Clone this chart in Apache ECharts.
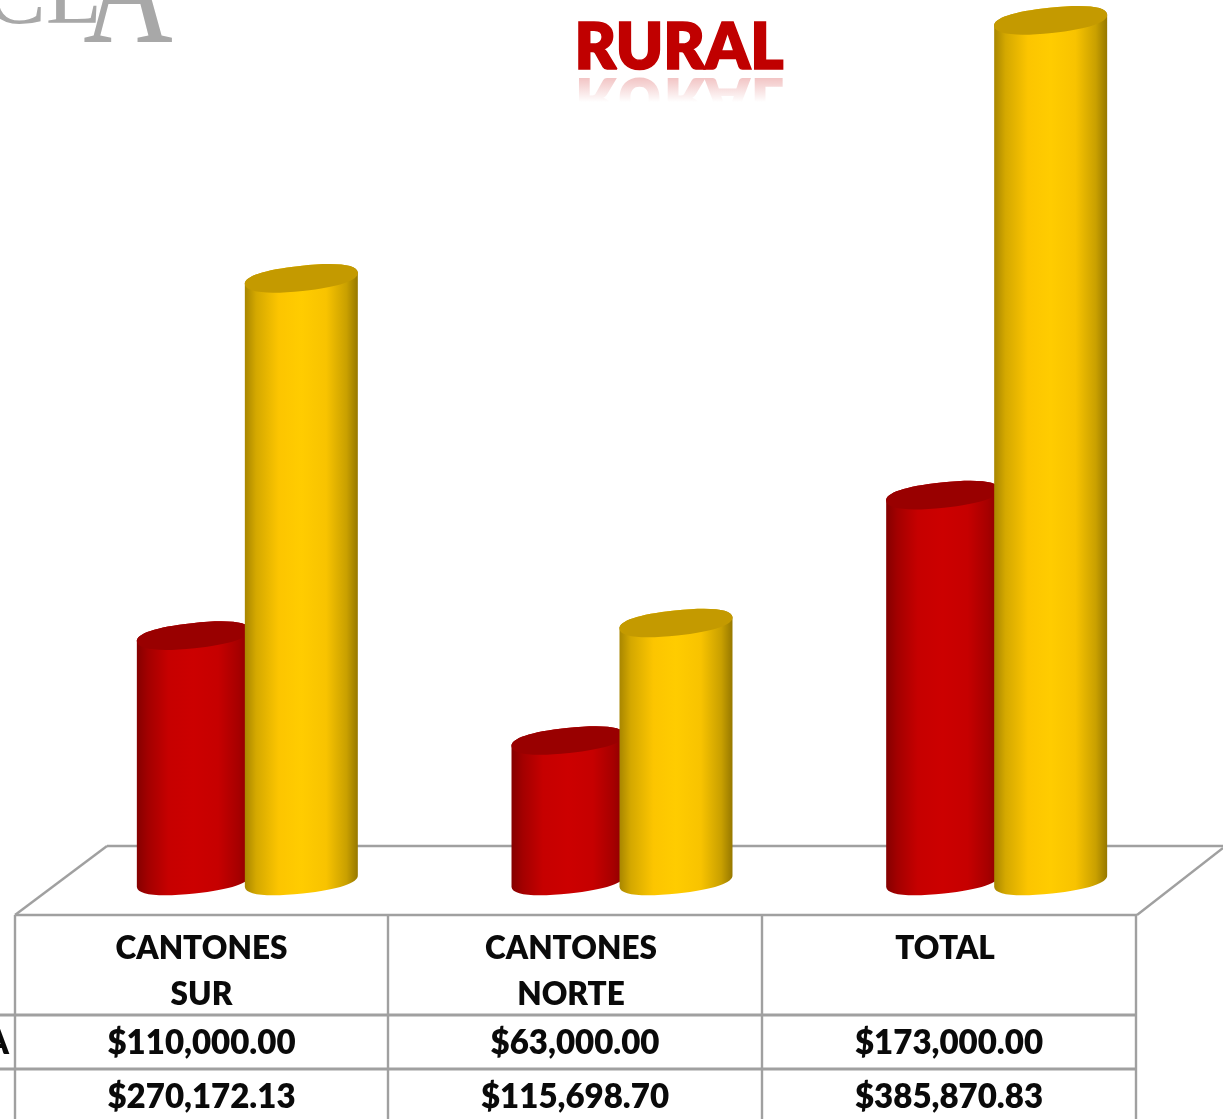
<!DOCTYPE html>
<html>
<head>
<meta charset="utf-8">
<style>html,body{margin:0;padding:0;background:#fff;overflow:hidden}#c{width:1223px;height:1119px}</style>
<script src="https://cdn.jsdelivr.net/npm/echarts@6/dist/echarts.min.js"></script>
</head>
<body>
<div id="c"></div>
<script>
const categories = ['CANTONES\nSUR', 'CANTONES\nNORTE', 'TOTAL'];
const seriesRed = [110000.00, 63000.00, 173000.00];
const seriesYellow = [270172.13, 115698.70, 385870.83];
const titleText = 'RURAL';

const money = v => '$' + v.toLocaleString('en-US', {minimumFractionDigits: 2, maximumFractionDigits: 2});
const chart = echarts.init(document.getElementById('c'), null, {renderer: 'canvas'});

const RX = 56.8, RY = 12.6, TILT = 6, K = 0.64, C = Math.cos(TILT * Math.PI / 180), S = Math.sin(TILT * Math.PI / 180);
function grad(stops) {
  return {type: 'linear', x: 0, y: 0, x2: 1, y2: 0,
    colorStops: stops.map(s => ({offset: s[0], color: s[1]}))};
}
const redGrad = grad([[0,'#850000'],[0.1,'#a30000'],[0.28,'#c60000'],[0.5,'#cc0000'],[0.72,'#c60000'],[0.9,'#a60000'],[1,'#8a0000']]);
const yelGrad = grad([[0,'#a88600'],[0.1,'#d4a800'],[0.3,'#fcc500'],[0.5,'#ffcc00'],[0.72,'#f8c300'],[0.9,'#c9a000'],[1,'#967800']]);

// point of a tilted local frame around the cylinder end's centre
const pt = (cx, cy, u, v) => `${cx + u * C + v * S} ${cy - u * S + v * C}`;
// half of the end outline, from the left end to the right end; side = 1 lower half, -1 upper half
const half = (cx, cy, side) => {
  const a = pt(cx, cy, -RX, side * K * RY), b = pt(cx, cy, -K * RX, side * RY), m = pt(cx, cy, 0, side * RY);
  const c = pt(cx, cy, K * RX, side * RY), d = pt(cx, cy, RX, side * K * RY), e = pt(cx, cy, RX, 0);
  return side > 0 ? `C ${a} ${b} ${m} C ${c} ${d} ${e}` : `C ${d} ${c} ${m} C ${b} ${a} ${pt(cx, cy, -RX, 0)}`;
};

function cylinder(offset, body, cap) {
  return function (params, api) {
    const top = api.coord([api.value(0), api.value(1)]);
    const base = api.coord([api.value(0), 0]);
    const cx = top[0] + offset;
    const bodyPath = `M ${pt(cx, top[1], -RX, 0)} L ${pt(cx, base[1], -RX, 0)} ` + half(cx, base[1], 1) +
      ` L ${pt(cx, top[1], RX, 0)} ` + half(cx, top[1], -1) + ' Z';
    const capPath = `M ${pt(cx, top[1], -RX, 0)} ` + half(cx, top[1], 1) + ' ' + half(cx, top[1], -1) + ' Z';
    return {type: 'group', children: [
      {type: 'path', shape: {pathData: bodyPath}, style: {fill: body, stroke: null}},
      {type: 'path', shape: {pathData: capPath}, style: {fill: cap, stroke: null}}
    ]};
  };
}

const LINE = '#a0a0a0';
const FONT = 'Lato, "Noto Sans", sans-serif';
const colX = [15, 388, 762, 1136];
const rowY = [915, 1015, 1069, 1119];
const ln = (x1, y1, x2, y2, w) => ({type: 'line', z: 1, shape: {x1, y1, x2, y2}, style: {stroke: LINE, lineWidth: w || 2.4}});
const txt = (text, x, y, size) => ({type: 'text', z: 5, x, y, style: {text, x: 0, y: 0, fill: '#0a0a0a', font: '800 ' + size + 'px ' + FONT, align: 'center', verticalAlign: 'middle'}});

const elements = [
  ln(107, 846, 1223, 846), ln(107, 846, 15, 915), ln(1223, 848, 1137, 915),
  ln(15, rowY[0], 1137, rowY[0]), ln(0, rowY[1], 1137, rowY[1], 3), ln(0, rowY[2], 1137, rowY[2], 3)
];
colX.forEach(x => elements.push(ln(x, rowY[0], x, rowY[3])));
categories.forEach((c, i) => {
  const xc = (colX[i] + colX[i + 1]) / 2;
  c.split('\n').forEach((t, k) => elements.push(txt(t, xc - (i === 0 ? 0 : 4), 949 + k * 46, 31.5)));
  elements.push(txt(money(seriesRed[i]), xc, 1043, 33));
  elements.push(txt(money(seriesYellow[i]), xc, 1097, 33));
});
elements.push({type: 'text', z: 5, x: 9, y: 1043, style: {text: 'A', x: 0, y: 0, fill: '#0a0a0a', font: '800 33px ' + FONT, align: 'right', verticalAlign: 'middle'}});

// watermark
elements.push({type: 'text', z: 1, x: 102, y: -47, style: {text: 'CL', x: 0, y: 0, fill: '#a8a8a8', font: '92px "Liberation Serif", serif', align: 'right', verticalAlign: 'top'}});
elements.push({type: 'text', z: 1, x: 128, y: -86, scaleY: 1.35, style: {text: 'A', x: 0, y: 0, fill: '#a8a8a8', font: '124px "Liberation Serif", serif', align: 'center', verticalAlign: 'top'}});

// title with reflection
const tFont = '800 63.5px ' + FONT;
elements.push({type: 'text', z: 6, x: 679, y: 49, style: {text: titleText, x: 0, y: 0, fill: '#c00000', font: tFont, align: 'center', verticalAlign: 'middle', stroke: '#c00000', lineWidth: 1.5}});
elements.push({type: 'text', z: 6, x: 679, y: 98, scaleY: -1, style: {text: titleText, x: 0, y: 0, fill: '#d85050', font: tFont, align: 'center', verticalAlign: 'middle'}});
elements.push({type: 'rect', z: 7, shape: {x: 560, y: 73.5, width: 240, height: 52}, style: {fill: {type: 'linear', x: 0, y: 0, x2: 0, y2: 1, colorStops: [{offset: 0, color: 'rgba(255,255,255,0.6)'}, {offset: 0.55, color: 'rgba(255,255,255,1)'}, {offset: 1, color: 'rgba(255,255,255,1)'}]}}});

chart.setOption({
  animation: false,
  backgroundColor: '#ffffff',
  grid: {left: 60, width: 1124, top: 0, height: 881, containLabel: false},
  xAxis: {type: 'category', data: categories, show: false},
  yAxis: {type: 'value', min: 0, max: 395000, show: false},
  series: [
    {name: 'red', type: 'custom', z: 3, clip: false, renderItem: cylinder(-54, redGrad, '#990000'),
     encode: {x: 0, y: 1}, data: seriesRed.map((v, i) => [i, v])},
    {name: 'yellow', type: 'custom', z: 4, clip: false, renderItem: cylinder(54, yelGrad, '#c49a00'),
     encode: {x: 0, y: 1}, data: seriesYellow.map((v, i) => [i, v])}
  ],
  graphic: {elements}
});
</script>
</body>
</html>
